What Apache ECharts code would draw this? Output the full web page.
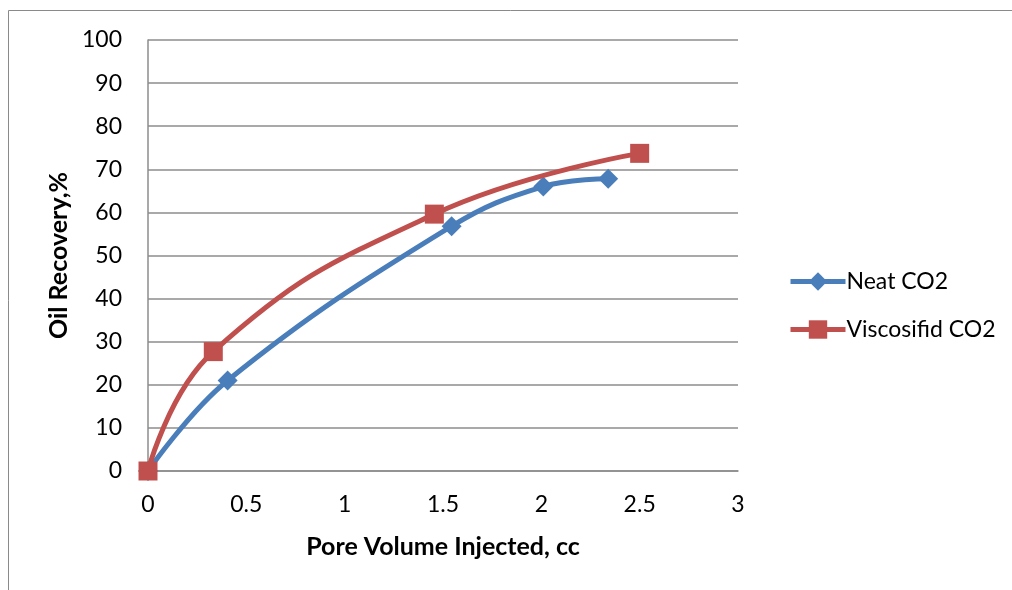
<!DOCTYPE html>
<html>
<head>
<meta charset="utf-8">
<script src="https://cdn.jsdelivr.net/npm/echarts@6/dist/echarts.min.js"></script>
<style>
  html, body { margin: 0; padding: 0; background: #fff; }
  #chart { width: 1012px; height: 590px; }
</style>
</head>
<body>
<div id="chart"></div>
<script>
// Pore volume injected (cc) and oil recovery (%) for each flood
const neatX = [0, 0.405, 1.544, 2.01, 2.34];
const neatY = [0, 21.0, 56.8, 66.0, 67.8];
const viscX = [0, 0.332, 1.456, 2.50];
const viscY = [0, 27.7, 59.6, 73.7];

const seriesNames = ['Neat CO2', 'Viscosifid CO2'];
const xTitle = 'Pore Volume Injected, cc';
const yTitle = 'Oil Recovery,%';

const FONT = 'Lato, "Open Sans", sans-serif';
const GRID_COLOR = '#8c8c8c';

function pairs(xs, ys) {
  return xs.map((x, i) => [x, ys[i]]);
}

const chart = echarts.init(document.getElementById('chart'), null, { renderer: 'canvas' });

chart.setOption({
  animation: false,
  backgroundColor: '#ffffff',
  graphic: [{
    type: 'rect',
    shape: { x: 8.5, y: 10.5, width: 1100, height: 700 },
    style: { fill: 'none', stroke: '#8a8a8a', lineWidth: 1 },
    silent: true,
    z: -10
  }],
  grid: { left: 148, top: 40, width: 590, height: 431 },
  legend: {
    orient: 'vertical',
    left: 783,
    top: 265,
    itemWidth: 55,
    itemHeight: 23,
    itemGap: 25,
    lineStyle: { width: 5 },
    textStyle: { fontFamily: FONT, fontSize: 23, color: '#000', padding: [0, 0, 0, -4] },
    data: seriesNames
  },
  xAxis: {
    type: 'value',
    min: 0, max: 3, interval: 0.5,
    name: xTitle,
    nameLocation: 'middle',
    nameGap: 63,
    nameTextStyle: { fontFamily: FONT, fontSize: 25, fontWeight: 'bold', color: '#000' },
    axisLine: { show: true, lineStyle: { color: GRID_COLOR, width: 1.5 } },
    axisTick: { show: false },
    splitLine: { show: false },
    axisLabel: { fontFamily: FONT, fontSize: 23, color: '#000', margin: 22 }
  },
  yAxis: {
    type: 'value',
    min: 0, max: 100, interval: 10,
    name: yTitle,
    nameLocation: 'middle',
    nameGap: 76,
    nameTextStyle: { fontFamily: FONT, fontSize: 25, fontWeight: 'bold', color: '#000' },
    axisLine: { show: true, lineStyle: { color: GRID_COLOR, width: 1.5 } },
    axisTick: { show: false },
    splitLine: { show: true, lineStyle: { color: GRID_COLOR, width: 1.5 } },
    axisLabel: { fontFamily: FONT, fontSize: 23, color: '#000', margin: 26 }
  },
  series: [
    {
      name: seriesNames[0],
      type: 'line',
      data: pairs(neatX, neatY),
      smooth: 0.4,
      symbol: 'diamond',
      symbolSize: 20,
      showAllSymbol: true,
      lineStyle: { color: '#4a7ebb', width: 5 },
      itemStyle: { color: '#4a7ebb' },
      z: 2
    },
    {
      name: seriesNames[1],
      type: 'line',
      data: pairs(viscX, viscY),
      smooth: 0.45,
      symbol: 'rect',
      symbolSize: 19,
      showAllSymbol: true,
      lineStyle: { color: '#c0504d', width: 5 },
      itemStyle: { color: '#c0504d' },
      z: 3
    }
  ]
});
</script>
</body>
</html>
